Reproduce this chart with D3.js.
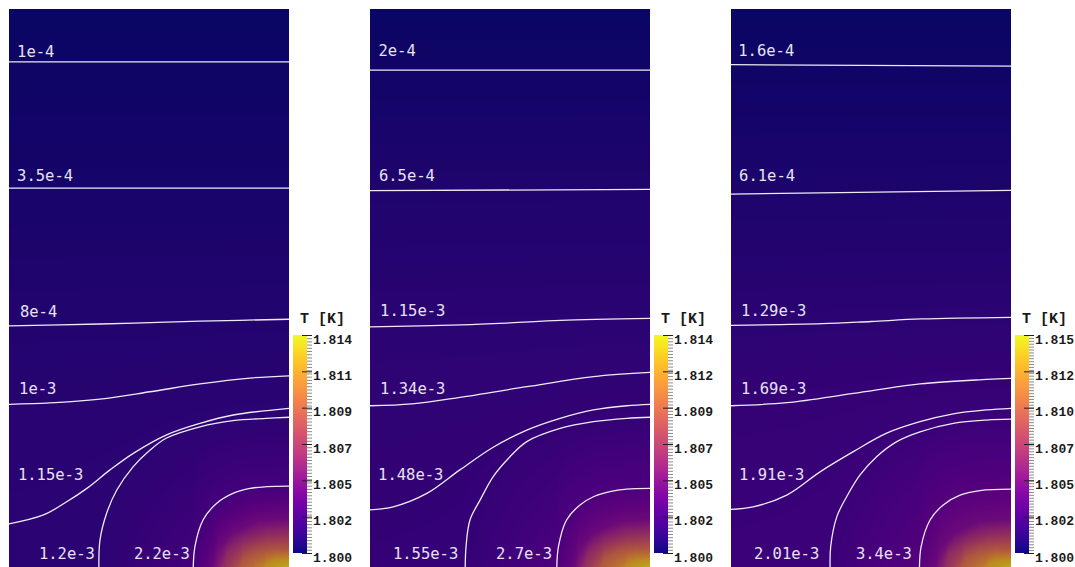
<!DOCTYPE html>
<html><head><meta charset="utf-8">
<script src="https://cdn.jsdelivr.net/npm/d3@7"></script>
<style>html,body{margin:0;padding:0;background:#fff;overflow:hidden}</style>
</head><body><svg id="chart" width="1075" height="567"></svg>
<script>
// ---------------- DATA ----------------
const colorbarTitle = "T [K]";
const bathT = 1.8;
const maxT1 = 1.8136, maxT2 = 1.8138, maxT3 = 1.8150;
const tickLabels1 = ["1.800","1.802","1.805","1.807","1.809","1.811","1.814"];
const tickLabels2 = ["1.800","1.802","1.805","1.807","1.809","1.812","1.814"];
const tickLabels3 = ["1.800","1.802","1.805","1.807","1.810","1.812","1.815"];
const minorStep = 0.0002;

// contour levels (temperature rise above bath, K) and their labels
const levels1 = [1e-4, 3.5e-4, 8e-4, 1e-3, 1.15e-3, 1.2e-3, 2.2e-3];
const labels1 = ["1e-4","3.5e-4","8e-4","1e-3","1.15e-3","1.2e-3","2.2e-3"];
const levels2 = [2e-4, 6.5e-4, 1.15e-3, 1.34e-3, 1.48e-3, 1.55e-3, 2.7e-3];
const labels2 = ["2e-4","6.5e-4","1.15e-3","1.34e-3","1.48e-3","1.55e-3","2.7e-3"];
const levels3 = [1.6e-4, 6.1e-4, 1.29e-3, 1.69e-3, 1.91e-3, 2.01e-3, 3.4e-3];
const labels3 = ["1.6e-4","6.1e-4","1.29e-3","1.69e-3","1.91e-3","2.01e-3","3.4e-3"];

// contour geometry in domain units (x: 0..10 mm across, y: 0..20 mm depth)
const contours1 = [
  [[0,1.89],[10,1.89]],
  [[0,6.40],[10,6.40]],
  [[0,11.32],[3.25,11.25],[5.04,11.20],[6.82,11.15],[10,11.08]],
  [[0,14.12],[1.46,14.07],[3.25,13.93],[5.04,13.67],[6.82,13.39],[8.61,13.18],[10,13.10]],
  [[0,18.39],[1.23,18.07],[2.06,17.60],[2.78,17.12],[3.61,16.46],[4.44,15.87],[5.63,15.21],[6.82,14.80],[8.01,14.50],[10,14.26]],
  [[3.21,20],[3.25,18.96],[3.49,18.0],[3.85,17.18],[4.43,16.35],[5.04,15.75],[5.63,15.32],[6.82,14.92],[8.0,14.70],[9.20,14.62],[10,14.58]],
  [[6.58,20],[6.64,19.20],[6.93,18.25],[7.42,17.65],[8.0,17.30],[8.61,17.12],[9.20,17.06],[10,17.04]]
];
const contours2 = [
  [[0,2.18],[10,2.18]],
  [[0,6.49],[10,6.44]],
  [[0,11.35],[3.25,11.28],[5.0,11.21],[6.8,11.12],[10,11.05]],
  [[0,14.17],[1.5,14.10],[3.21,13.87],[5.6,13.49],[7.98,13.13],[10,12.98]],
  [[0,17.89],[0.83,17.78],[2.03,17.30],[3.21,16.46],[4.40,15.65],[5.60,15.04],[6.79,14.62],[7.98,14.32],[9.17,14.17],[10,14.12]],
  [[3.40,20],[3.43,19.20],[3.57,18.25],[3.93,17.54],[4.40,16.70],[5.0,15.99],[5.60,15.45],[6.79,14.98],[7.98,14.74],[9.17,14.62],[10,14.58]],
  [[6.67,20],[6.73,19.20],[7.02,18.25],[7.5,17.71],[7.98,17.42],[8.57,17.24],[9.17,17.15],[10,17.12]]
];
const contours3 = [
  [[0,1.99],[10,2.04]],
  [[0,6.61],[10,6.48]],
  [[0,11.30],[3.25,11.24],[5.0,11.16],[6.8,11.07],[10,11.01]],
  [[0,14.17],[1.99,14.06],[4.37,13.73],[6.75,13.39],[9.13,13.23],[10,13.19]],
  [[0,17.87],[0.79,17.78],[1.99,17.36],[3.18,16.53],[4.37,15.81],[5.56,15.15],[6.75,14.74],[7.94,14.46],[9.13,14.32],[10,14.26]],
  [[3.54,20],[3.56,19.20],[3.78,18.13],[4.13,17.42],[4.61,16.64],[5.20,15.99],[5.92,15.45],[6.75,15.10],[7.94,14.80],[9.13,14.68],[10,14.65]],
  [[6.73,20],[6.79,19.20],[7.11,18.25],[7.58,17.71],[8.18,17.36],[8.89,17.20],[10,17.15]]
];

// label anchor (x, baseline y) in domain units
const labelPos1 = [[0.29,1.71],[0.29,6.14],[0.39,11.0],[0.36,13.75],[0.32,16.82],[1.07,19.64],[4.46,19.64]];
const labelPos2 = [[0.30,1.68],[0.32,6.14],[0.36,10.96],[0.36,13.75],[0.29,16.82],[0.82,19.64],[4.50,19.64]];
const labelPos3 = [[0.26,1.68],[0.29,6.14],[0.36,10.96],[0.36,13.75],[0.29,16.82],[0.82,19.64],[4.46,19.64]];

// unlabeled isotherms inside the hot spot, same shape in all panels
const hotspotLines = [
  [[7.3,20],[7.45,19.3],[8.0,18.7],[8.9,18.3],[10,18.2]],
  [[7.6,20],[7.78,19.45],[8.4,19.0],[9.2,18.76],[10,18.7]],
  [[8.2,20],[8.36,19.65],[8.85,19.4],[9.45,19.3],[10,19.28]],
  [[9.1,20],[9.2,19.82],[9.5,19.7],[10,19.65]]
];
const hotspotLevels1 = [4.1e-3, 6.1e-3, 8.8e-3, 11.6e-3];
const hotspotLevels2 = [4.1e-3, 6.2e-3, 9.0e-3, 11.7e-3];
const hotspotLevels3 = [4.5e-3, 6.75e-3, 9.75e-3, 12.75e-3];
const leftBottom1 = 1.17e-3, leftBottom2 = 1.52e-3, leftBottom3 = 1.96e-3;

// ---------------- DRAW ----------------
const svg = d3.select("#chart");
const defs = svg.append("defs");
const panelW = 280, panelH = 560, panelTop = 9, panelGap = 361, firstLeft = 9;
const shade = 0.74;
const lut = d3.range(1024).map(i => d3.rgb(d3.interpolatePlasma(i / 1023)));

const panels = [
  {maxT: maxT1, ticks: tickLabels1, levels: levels1, labels: labels1, lines: contours1, lpos: labelPos1, hot: hotspotLevels1, lb: leftBottom1},
  {maxT: maxT2, ticks: tickLabels2, levels: levels2, labels: labels2, lines: contours2, lpos: labelPos2, hot: hotspotLevels2, lb: leftBottom2},
  {maxT: maxT3, ticks: tickLabels3, levels: levels3, labels: labels3, lines: contours3, lpos: labelPos3, hot: hotspotLevels3, lb: leftBottom3}
];

function crossY(pts, x) {
  if (x < pts[0][0] || x > pts[pts.length - 1][0]) return null;
  for (let k = 0; k < pts.length - 1; k++) {
    const a = pts[k], b = pts[k + 1];
    if (x >= a[0] && x <= b[0]) {
      if (b[0] === a[0]) return a[1];
      return a[1] + (b[1] - a[1]) * (x - a[0]) / (b[0] - a[0]);
    }
  }
  return null;
}

panels.forEach((p, i) => {
  const left = firstLeft + i * panelGap;
  const xs = d3.scaleLinear().domain([0, 10]).range([left, left + panelW]);
  const ys = d3.scaleLinear().domain([0, 20]).range([panelTop, panelTop + panelH]);
  const range = p.maxT - bathT;

  const iso = p.lines.map((pts, k) => ({pts, v: p.levels[k]}))
    .concat(hotspotLines.map((pts, k) => ({pts, v: p.hot[k]})));
  const bottom = [[0, p.lb]].concat(iso.filter(d => d.pts[0][1] >= 19.99).map(d => [d.pts[0][0], d.v]), [[10, range]])
    .sort((a, b) => a[0] - b[0]);
  const bottomScale = d3.scaleLinear().domain(bottom.map(d => d[0])).range(bottom.map(d => d[1]));

  const cw = panelW, ch = panelH;
  const canvas = document.createElement("canvas");
  canvas.width = cw; canvas.height = ch;
  const ctx = canvas.getContext("2d");
  const img = ctx.createImageData(cw, ch);
  for (let px = 0; px < cw; px++) {
    const x = xs.invert(left + px + 0.5);
    const nodes = [[0, 0]];
    iso.forEach(d => { const y = crossY(d.pts, x); if (y !== null) nodes.push([y, d.v]); });
    nodes.push([20, bottomScale(x)]);
    nodes.sort((a, b) => a[0] - b[0]);
    let s = 0;
    for (let py = 0; py < ch; py++) {
      const y = ys.invert(panelTop + py + 0.5);
      while (s < nodes.length - 2 && y > nodes[s + 1][0]) s++;
      const a = nodes[s], b = nodes[s + 1];
      const v = b[0] === a[0] ? b[1] : a[1] + (b[1] - a[1]) * Math.max(0, Math.min(1, (y - a[0]) / (b[0] - a[0])));
      const t = Math.max(0, Math.min(1, v / range));
      const c = lut[Math.round(t * 1023)];
      const o = (py * cw + px) * 4;
      img.data[o] = c.r * shade; img.data[o + 1] = c.g * shade; img.data[o + 2] = c.b * shade; img.data[o + 3] = 255;
    }
  }
  ctx.putImageData(img, 0, 0);

  const clipId = "clip" + i;
  defs.append("clipPath").attr("id", clipId).append("rect")
    .attr("x", xs(0)).attr("y", ys(0)).attr("width", xs(10) - xs(0)).attr("height", ys(20) - ys(0));
  const g = svg.append("g").attr("clip-path", `url(#${clipId})`);
  g.append("image").attr("href", canvas.toDataURL())
    .attr("x", xs(0)).attr("y", ys(0)).attr("width", xs(10) - xs(0)).attr("height", ys(20) - ys(0))
    .attr("preserveAspectRatio", "none");

  const line = d3.line().x(d => xs(d[0])).y(d => ys(d[1])).curve(d3.curveCatmullRom.alpha(0.5));
  g.selectAll("path.contour").data(p.lines).join("path").attr("class", "contour")
    .attr("d", line).attr("fill", "none").attr("stroke", "#ffffff").attr("stroke-width", 1.3).attr("stroke-opacity", 0.92);

  g.selectAll("text.clabel").data(p.labels).join("text").attr("class", "clabel")
    .attr("x", (d, k) => xs(p.lpos[k][0])).attr("y", (d, k) => ys(p.lpos[k][1]))
    .attr("font-family", "'DejaVu Sans Mono', monospace").attr("font-size", 15.5)
    .attr("fill", "#e6e2f0").text(d => d);

  // colour bar
  const barX = left + 284, barW = 14, barTop = 335, barBot = 553;
  const cs = d3.scaleLinear().domain([bathT, p.maxT]).range([barBot, barTop]);
  const gradId = "grad" + i;
  const grad = defs.append("linearGradient").attr("id", gradId).attr("x1", 0).attr("y1", 1).attr("x2", 0).attr("y2", 0);
  d3.range(0, 1.0001, 0.05).forEach(t => grad.append("stop").attr("offset", t).attr("stop-color", d3.interpolatePlasma(t)));
  svg.append("rect").attr("x", barX).attr("y", barTop).attr("width", barW).attr("height", barBot - barTop).attr("fill", `url(#${gradId})`);

  const minorVals = d3.range(bathT, p.maxT + 1e-9, minorStep);
  const minorAxis = d3.axisRight(cs).tickValues(minorVals).tickSize(5).tickFormat("");
  const gm = svg.append("g").attr("transform", `translate(${barX + barW},0)`).call(minorAxis);
  gm.select(".domain").remove();
  gm.selectAll(".tick line").attr("stroke", "#8a8a8a").attr("stroke-width", 1);

  const majorVals = d3.range(7).map(k => bathT + range * k / 6);
  const majorAxis = d3.axisRight(cs).tickValues(majorVals).tickSize(10).tickPadding(1)
    .tickFormat((d, k) => p.ticks[k]);
  const gM = svg.append("g").attr("transform", `translate(${barX + barW - 5},0)`).call(majorAxis);
  gM.select(".domain").remove();
  gM.selectAll(".tick line").attr("stroke", "#202020").attr("stroke-width", 1);
  gM.selectAll(".tick text").attr("font-family", "'Liberation Mono', monospace").attr("font-weight", "bold")
    .attr("font-size", 13).attr("fill", "#1a1a1a").attr("dy", "0.62em");

  svg.append("text").attr("x", barX + 7).attr("y", 323)
    .attr("font-family", "'Liberation Mono', monospace").attr("font-weight", "bold").attr("font-size", 15)
    .attr("fill", "#1a1a1a").text(colorbarTitle);
});
</script></body></html>
